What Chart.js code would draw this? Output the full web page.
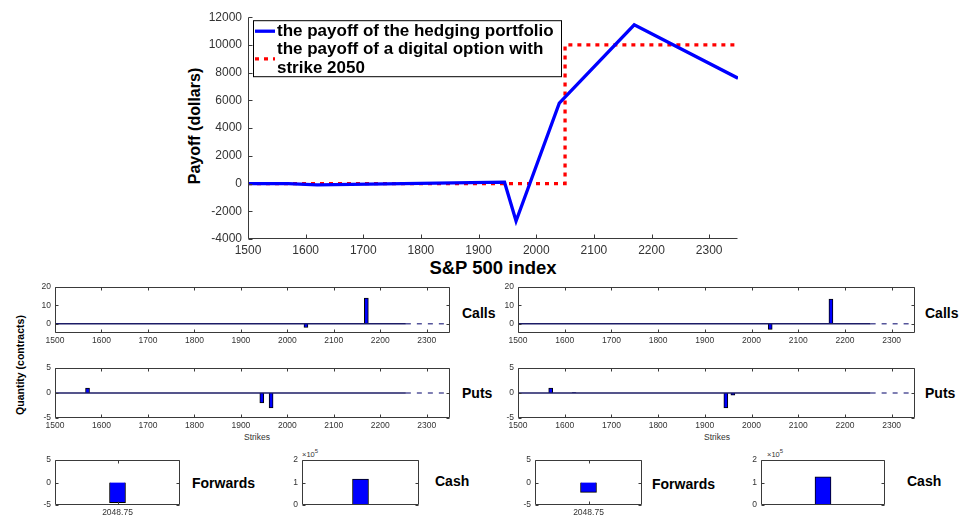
<!DOCTYPE html>
<html>
<head>
<meta charset="utf-8">
<script src="https://cdn.jsdelivr.net/npm/chart.js@4.4.1/dist/chart.umd.min.js"></script>
<style>
  body { margin: 0; background: #fff; }
  #fig { position: relative; width: 961px; height: 521px; overflow: hidden; font-family: "Liberation Sans", Arial, Helvetica, sans-serif; }
  #fig canvas { position: absolute; }
  .lbl { position: absolute; white-space: nowrap; color: #000; line-height: 1; }
  .b { font-weight: bold; }
  .mid { transform: translate(-50%, -50%); }
  .vc { transform: translateY(-50%); }
  .rot { transform: translate(-50%, -50%) rotate(-90deg); }
  .small { font-size: 8.5px; color: #333; }
</style>
</head>
<body>
<div id="fig">
  <div class="lbl b rot" style="left:195px;top:126px;font-size:16px">Payoff (dollars)</div>
  <div class="lbl b mid" style="left:493px;top:268px;font-size:18.5px">S&amp;P 500 index</div>
  <div class="lbl b rot" style="left:20px;top:365px;font-size:10.5px">Quantity (contracts)</div>

  <div class="lbl b vc" style="left:462px;top:313px;font-size:14px">Calls</div>
  <div class="lbl b vc" style="left:462px;top:393px;font-size:14px">Puts</div>
  <div class="lbl b vc" style="left:925px;top:313px;font-size:14px">Calls</div>
  <div class="lbl b vc" style="left:925px;top:393px;font-size:14px">Puts</div>
  <div class="lbl small mid" style="left:257px;top:437px">Strikes</div>
  <div class="lbl small mid" style="left:717px;top:437px">Strikes</div>

  <div class="lbl b vc" style="left:192px;top:483px;font-size:14px">Forwards</div>
  <div class="lbl b vc" style="left:435px;top:481px;font-size:14px">Cash</div>
  <div class="lbl b vc" style="left:652px;top:484px;font-size:14px">Forwards</div>
  <div class="lbl b vc" style="left:907px;top:481px;font-size:14px">Cash</div>
  <div class="lbl small" style="left:302px;top:448px;font-size:7.5px">&times;10<sup style="font-size:6px">5</sup></div>
  <div class="lbl small" style="left:767px;top:448px;font-size:7.5px">&times;10<sup style="font-size:6px">5</sup></div>
</div>

<script>
// ---- data ----
const strikeTicks = [1500, 1600, 1700, 1800, 1900, 2000, 2100, 2200, 2300];
const payoffTicks = [-4000, -2000, 0, 2000, 4000, 6000, 8000, 10000, 12000];

const hedgeIndex = [1500, 1570, 1620, 1945, 1965, 2040, 2170, 2350];
const hedgePayoff = [0, 0, -100, 100, -2700, 5800, 11450, 7600];
const digitalIndex = [1500, 2050, 2050, 2350];
const digitalPayoff = [0, 0, 10000, 10000];

const legendText = [
    ['the payoff of the hedging portfolio'],
    ['the payoff of a digital option with', 'strike 2050']
];

const callStrikesLeft = [2040, 2170];
const callsLeft = [-2, 14];
const callStrikesRight = [2040, 2170];
const callsRight = [-3, 13.5];
const callTicks = [0, 10, 20];

const putStrikesLeft = [1570, 1945, 1965];
const putsLeft = [1, -2, -3];
const putStrikesRight = [1570, 1620, 1945, 1960];
const putsRight = [1, 0.1, -3, -0.4];
const putTicks = [-5, 0, 5];

// zero-quantity strikes (drawn as a flat run) and the sparse tail after it
const zeroRun = [1500, 2255];
const zeroTail = [2255, 2350];

const forwardLabels = ['2048.75'];
const forwardsLeft = [-4.5];
const forwardsRight = [-2.2];
const forwardTicks = [-5, 0, 5];

const cashLabels = [''];
const cashLeft = [115000];
const cashRight = [125000];
const cashTicks = [0, 100000, 200000];

Chart.defaults.font.family = "'Liberation Sans', Arial, Helvetica, sans-serif";
Chart.defaults.color = '#333';

// matlab style axes: box + inward ticks
const matlabAxes = {
    id: 'matlabAxes',
    afterDatasetsDraw(chart, args, opts) {
        const {ctx, chartArea: a, scales: {x, y}} = chart;
        const L = opts.tick || 3;
        const l = Math.round(a.left) + 0.5, r = Math.round(a.right) - 0.5;
        const t = Math.round(a.top) + 0.5, b = Math.round(a.bottom) - 0.5;
        ctx.save();
        ctx.strokeStyle = '#3a3a3a';
        ctx.lineWidth = 1;
        ctx.beginPath();
        if (opts.box) {
            ctx.rect(l, t, r - l, b - t);
        } else {
            ctx.moveTo(l, t); ctx.lineTo(l, b); ctx.lineTo(r, b);
        }
        if (opts.xTicks !== false) {
            x.ticks.forEach((tk, i) => {
                const px = Math.round(x.getPixelForTick(i)) + 0.5;
                ctx.moveTo(px, b); ctx.lineTo(px, b - L);
                if (opts.box) { ctx.moveTo(px, t); ctx.lineTo(px, t + L); }
            });
        }
        y.ticks.forEach((tk, i) => {
            const py = Math.round(y.getPixelForTick(i)) + 0.5;
            ctx.moveTo(l, py); ctx.lineTo(l + L, py);
            if (opts.box) { ctx.moveTo(r, py); ctx.lineTo(r - L, py); }
        });
        ctx.stroke();
        ctx.restore();
    }
};

// legend box with wrapped text, drawn from the dataset styles
const boxLegend = {
    id: 'boxLegend',
    afterDraw(chart, args, opts) {
        if (!opts.items) return;
        const {ctx, chartArea: a} = chart;
        const x0 = a.left + opts.dx, y0 = a.top + opts.dy;
        ctx.save();
        ctx.fillStyle = '#fff';
        ctx.fillRect(x0, y0, opts.w, opts.h);
        ctx.strokeStyle = '#000';
        ctx.lineWidth = 1;
        ctx.strokeRect(x0 + 0.5, y0 + 0.5, opts.w, opts.h);
        ctx.font = 'bold 17px ' + Chart.defaults.font.family;
        ctx.textBaseline = 'middle';
        let yy = y0 + 11;
        chart.data.datasets.forEach((ds, i) => {
            const lines = opts.items[i];
            const mid = yy + (lines.length - 1) * opts.lineH / 2;
            ctx.strokeStyle = ds.borderColor;
            ctx.lineWidth = ds.borderWidth;
            ctx.setLineDash(ds.borderDash || []);
            ctx.beginPath();
            ctx.moveTo(x0 + 2, mid);
            ctx.lineTo(x0 + 22, mid);
            ctx.stroke();
            ctx.setLineDash([]);
            ctx.fillStyle = '#000';
            lines.forEach((txt, k) => ctx.fillText(txt, x0 + 24, yy + k * opts.lineH));
            yy += lines.length * opts.lineH;
        });
        ctx.restore();
    }
};

Chart.register(matlabAxes, boxLegend);

// area = [left, top, right, bottom] of the plot box, pad = [yAxisW, top, right, xAxisH]
function place(area, pad, config) {
    const c = document.createElement('canvas');
    const w = area[2] - area[0] + pad[0] + pad[2];
    const h = area[3] - area[1] + pad[1] + pad[3];
    c.width = w; c.height = h;
    c.style.width = w + 'px'; c.style.height = h + 'px';
    c.style.left = (area[0] - pad[0]) + 'px';
    c.style.top = (area[1] - pad[1]) + 'px';
    document.getElementById('fig').appendChild(c);
    const o = config.options;
    o.responsive = false;
    o.animation = false;
    o.devicePixelRatio = 1;
    o.layout = {padding: {left: 0, top: pad[1], right: pad[2], bottom: 0}};
    o.scales.x.afterFit = s => { s.height = pad[3]; };
    o.scales.y.afterFit = s => { s.width = pad[0]; };
    o.plugins = Object.assign({legend: {display: false}, tooltip: {enabled: false}}, o.plugins || {});
    return new Chart(c, config);
}

function fixedTicks(vals) {
    return s => { s.ticks = vals.map(v => ({value: v})); };
}

const pts = (xs, ys) => xs.map((x, i) => ({x: x, y: ys[i]}));
const plain = v => String(v);
const noGrid = {display: false, drawTicks: false, tickLength: 0};

// ---- main payoff chart ----
place([248, 14, 738, 239], [70, 10, 20, 25], {
    type: 'scatter',
    data: {
        datasets: [
            {
                label: 'hedging portfolio',
                data: pts(hedgeIndex, hedgePayoff),
                showLine: true,
                borderColor: '#0000ff',
                borderWidth: 3.3,
                pointRadius: 0,
                tension: 0
            },
            {
                label: 'digital option',
                data: pts(digitalIndex, digitalPayoff),
                showLine: true,
                borderColor: '#ff0000',
                borderWidth: 3.3,
                borderDash: [4, 5],
                borderCapStyle: 'butt',
                pointRadius: 0,
                tension: 0
            }
        ]
    },
    options: {
        scales: {
            x: {
                type: 'linear', min: 1500, max: 2350,
                afterBuildTicks: fixedTicks(strikeTicks),
                grid: noGrid, border: {display: false},
                ticks: {font: {size: 12}, padding: 4, maxRotation: 0, autoSkip: false, callback: plain}
            },
            y: {
                type: 'linear', min: -4000, max: 12000,
                afterBuildTicks: fixedTicks(payoffTicks),
                grid: noGrid, border: {display: false},
                ticks: {font: {size: 12}, padding: 6, callback: plain}
            }
        },
        plugins: {
            matlabAxes: {box: false, tick: 4},
            boxLegend: {items: legendText, dx: 5, dy: 3, w: 308, h: 56, lineH: 18.5}
        }
    }
});

// ---- strike bar panels ----
function strikePanel(area, xs, ys, ticks, ymin, ymax) {
    return place(area, [40, 8, 15, 18], {
        type: 'bar',
        data: {
            datasets: [
                {
                    type: 'line',
                    data: pts(zeroRun, [0, 0]),
                    borderColor: '#1c1c66',
                    borderWidth: 1.6,
                    pointRadius: 0
                },
                {
                    type: 'line',
                    data: pts(zeroTail, [0, 0]),
                    borderColor: '#55559a',
                    borderWidth: 1.5,
                    borderDash: [5, 6],
                    pointRadius: 0
                },
                {
                    data: pts(xs, ys),
                    backgroundColor: '#0000ff',
                    borderColor: '#000',
                    borderWidth: 1,
                    barThickness: 4
                }
            ]
        },
        options: {
            scales: {
                x: {
                    type: 'linear', min: 1500, max: 2350, offset: false,
                    afterBuildTicks: fixedTicks(strikeTicks),
                    grid: Object.assign({offset: false}, noGrid), border: {display: false},
                    ticks: {font: {size: 8.5}, padding: 3, maxRotation: 0, autoSkip: false, callback: plain}
                },
                y: {
                    type: 'linear', min: ymin, max: ymax,
                    afterBuildTicks: fixedTicks(ticks),
                    grid: noGrid, border: {display: false},
                    ticks: {font: {size: 8.5}, padding: 4, callback: plain}
                }
            },
            plugins: {matlabAxes: {box: true, tick: 3}}
        }
    });
}

strikePanel([55, 286, 450, 333], callStrikesLeft, callsLeft, callTicks, -5, 20);
strikePanel([55, 367, 450, 418], putStrikesLeft, putsLeft, putTicks, -5, 5);
strikePanel([518, 286, 915, 333], callStrikesRight, callsRight, callTicks, -5, 20);
strikePanel([518, 367, 915, 418], putStrikesRight, putsRight, putTicks, -5, 5);

// ---- forwards and cash ----
function singleBar(area, labels, vals, ticks, ymin, ymax, showX, fmt) {
    return place(area, [30, 8, 10, 16], {
        type: 'bar',
        data: {
            labels: labels,
            datasets: [{
                data: vals,
                backgroundColor: '#0000ff',
                borderColor: '#000',
                borderWidth: 1,
                barThickness: 16
            }]
        },
        options: {
            scales: {
                x: {
                    grid: noGrid, border: {display: false},
                    ticks: {display: showX, font: {size: 8.5}, padding: 3, maxRotation: 0}
                },
                y: {
                    type: 'linear', min: ymin, max: ymax,
                    afterBuildTicks: fixedTicks(ticks),
                    grid: noGrid, border: {display: false},
                    ticks: {font: {size: 8.5}, padding: 4, callback: fmt}
                }
            },
            plugins: {matlabAxes: {box: true, tick: 3, xTicks: showX}}
        }
    });
}

const cashFmt = v => String(v / 100000);

singleBar([55, 459, 180, 505], forwardLabels, forwardsLeft, forwardTicks, -5, 5, true, plain);
singleBar([302, 459, 419, 505], cashLabels, cashLeft, cashTicks, 0, 200000, false, cashFmt);
singleBar([535, 459, 642, 505], forwardLabels, forwardsRight, forwardTicks, -5, 5, true, plain);
singleBar([761, 459, 885, 505], cashLabels, cashRight, cashTicks, 0, 200000, false, cashFmt);
</script>
</body>
</html>
